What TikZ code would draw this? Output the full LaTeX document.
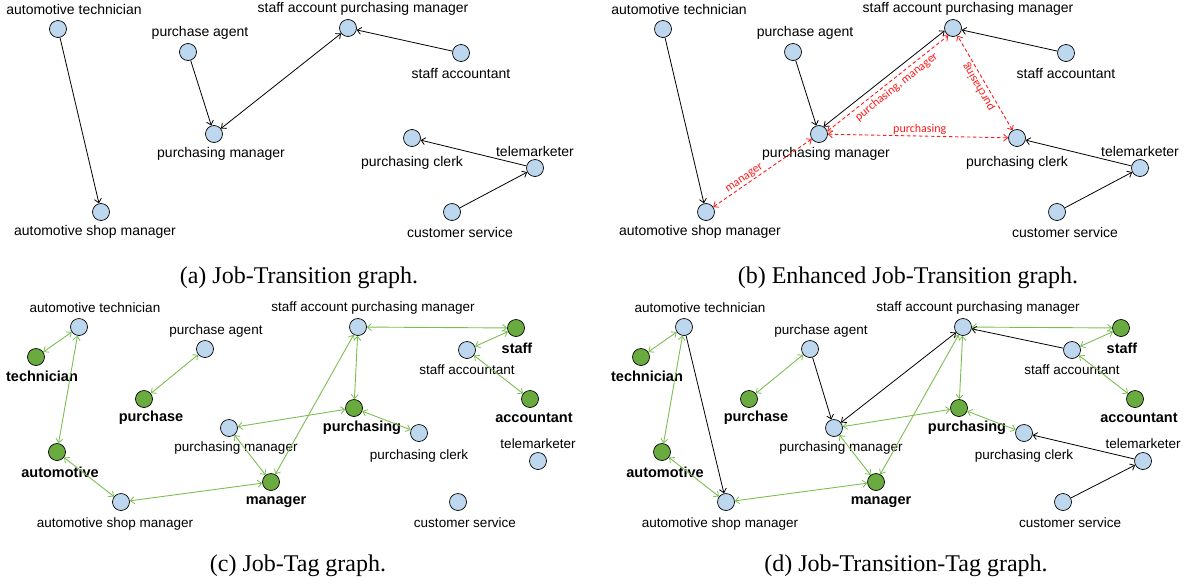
\documentclass[tikz,border=0pt]{standalone}
\usepackage{fontspec}
\setmainfont{Liberation Serif}
\newfontfamily\arialf{Liberation Sans}
\newfontfamily\calf{Carlito}
\usetikzlibrary{arrows.meta}
\definecolor{jobblue}{HTML}{BDD7EE}
\definecolor{tagfill}{HTML}{6AAB40}
\definecolor{tagedge}{HTML}{7DBE52}
\definecolor{relred}{HTML}{FF1A1A}

\newcommand{\jtgraph}[1]{%
  \node[job] (#1-at)   at (58,29)   {};
  \node[job] (#1-pa)   at (188,52)  {};
  \node[job] (#1-sapm) at (348,28)  {};
  \node[job] (#1-sa)   at (461,53)  {};
  \node[job] (#1-pm)   at (214,134) {};
  \node[job] (#1-pc)   at (412,138) {};
  \node[job] (#1-tm)   at (535,168) {};
  \node[job] (#1-cs)   at (452,212) {};
  \node[job] (#1-asm)  at (101,212) {};
  \node[lbl] (#1-atl)   at (74,9)    {automotive technician};
  \node[lbl] (#1-pal)   at (200,33)  {purchase agent};
  \node[lbl] (#1-sapml) at (363,9)   {staff account purchasing manager};
  \node[lbl] (#1-sal)   at (461,73)  {staff accountant};
  \node[lbl] (#1-pml)   at (221,154) {purchasing manager};
  \node[lbl] (#1-pcl)   at (412,163) {purchasing clerk};
  \node[lbl] (#1-tml)   at (535,151) {telemarketer};
  \node[lbl] (#1-csl)   at (460,232) {customer service};
  \node[lbl] (#1-asml)  at (95,232)  {automotive shop manager};
  \draw[trans] (#1-at) -- (#1-asm);
  \draw[trans] (#1-pa) -- (#1-pm);
  \draw[trans] (#1-sa) -- (#1-sapm);
  \draw[trans] (#1-tm) -- (#1-pc);
  \draw[trans] (#1-cs) -- (#1-tm);
}

\newcommand{\jtaggraph}[1]{%
  \node[job] (#1-at)   at (79,327)  {};
  \node[job] (#1-pa)   at (205,349) {};
  \node[job] (#1-sapm) at (358,327) {};
  \node[job] (#1-sa)   at (467,350) {};
  \node[job] (#1-pm)   at (229,428) {};
  \node[job] (#1-pc)   at (419,433) {};
  \node[job] (#1-tm)   at (538,461) {};
  \node[job] (#1-cs)   at (458,502) {};
  \node[job] (#1-asm)  at (121,502) {};
  \node[tag] (#1-tech) at (36,357)  {};
  \node[tag] (#1-pur)  at (144,399) {};
  \node[tag] (#1-auto) at (57,452)  {};
  \node[tag] (#1-man)  at (271,482) {};
  \node[tag] (#1-purg) at (354,408) {};
  \node[tag] (#1-stf)  at (516,328) {};
  \node[tag] (#1-acc)  at (530,399) {};
  \node[lblc] (#1-atl)   at (95,308)  {automotive technician};
  \node[lblc] (#1-pal)   at (216,331) {purchase agent};
  \node[lblc] (#1-sapml) at (373,308) {staff account purchasing manager};
  \node[lblc] (#1-sal)   at (467,370) {staff accountant};
  \node[lblc] (#1-pml)   at (236,448) {purchasing manager};
  \node[lblc] (#1-pcl)   at (419,456) {purchasing clerk};
  \node[lblc] (#1-tml)   at (538,444) {telemarketer};
  \node[lblc] (#1-csl)   at (465,523) {customer service};
  \node[lblc] (#1-asml)  at (115,524) {automotive shop manager};
  \node[tlbl] (#1-techl) at (42,376)  {technician};
  \node[tlbl] (#1-purl)  at (151,418) {purchase};
  \node[tlbl] (#1-autol) at (60,472)  {automotive};
  \node[tlbl] (#1-manl)  at (276,502) {manager};
  \node[tlbl] (#1-purgl) at (362,428) {purchasing};
  \node[tlbl] (#1-stfl)  at (517,348) {staff};
  \node[tlbl] (#1-accl)  at (534,418) {accountant};
  \draw[tagline] (#1-at) -- (#1-tech);
  \draw[tagline] (#1-at) -- (#1-auto);
  \draw[tagline] (#1-pa) -- (#1-pur);
  \draw[tagline] (#1-auto) -- (#1-asm);
  \draw[tagline] (#1-asm) -- (#1-man);
  \draw[tagline] (#1-pm) -- (#1-man);
  \draw[tagline] (#1-pm) -- (#1-purg);
  \draw[tagline] (#1-sapm) -- (#1-man);
  \draw[tagline] (#1-sapm) -- (#1-purg);
  \draw[tagline] (#1-sapm) -- (#1-stf);
  \draw[tagline] (#1-purg) -- (#1-pc);
  \draw[tagline] (#1-sa) -- (#1-stf);
  \draw[tagline] (#1-sa) -- (#1-acc);
}

\begin{document}
\begin{tikzpicture}[x=1pt,y=-1pt,
  job/.style={circle, draw=black, line width=0.7pt, fill=jobblue, minimum size=17pt, inner sep=0pt},
  tag/.style={circle, draw=black, line width=0.7pt, fill=tagfill, minimum size=17pt, inner sep=0pt},
  lbl/.style={font=\arialf\fontsize{14}{16}\selectfont, inner sep=0pt},
  lblc/.style={font=\arialf\fontsize{13.5}{16}\selectfont, inner sep=0pt},
  tlbl/.style={font=\arialf\bfseries\fontsize{14.5}{16}\selectfont, inner sep=0pt},
  captext/.style={font=\fontsize{24}{27}\selectfont, inner sep=0pt},
  mytip/.tip={Straight Barb[length=4pt,width=7pt,line width=0.8pt]},
  trans/.style={draw=black, line width=0.8pt, -mytip},
  transboth/.style={draw=black, line width=0.8pt, mytip-mytip},
  tagline/.style={draw=tagedge, line width=0.9pt, mytip-mytip},
  rel/.style={draw=relred, line width=0.9pt, dash pattern=on 3.5pt off 2.5pt, mytip-mytip},
  rellbl/.style={font=\calf\fontsize{12}{14}\selectfont, text=relred, inner sep=1pt}
]
\useasboundingbox (0,0) rectangle (1188,584);

% (a)
\begin{scope}
  \jtgraph{a}
  \draw[transboth] (a-pm) -- (a-sapm);
\end{scope}

% (b)
\begin{scope}[xshift=605pt]
  \jtgraph{b}
  \draw[transboth] (b-pm.58) -- (b-sapm.198);
  \draw[rel] (b-pm.18) -- node[rellbl, sloped, below=1.5pt, pos=0.53] {purchasing, manager} (b-sapm.238);
  \draw[rel] (b-pc) -- node[rellbl, sloped, allow upside down, above=1pt, pos=0.5] {purchasing} (b-sapm);
  \draw[rel] (b-pm) -- node[rellbl, above, pos=0.51] {purchasing} (b-pc);
  \draw[rel] (b-asm) -- node[rellbl, sloped, above, pos=0.35] {manager} (b-pm);
\end{scope}

% (c)
\begin{scope}
  \jtaggraph{c}
\end{scope}

% (d)
\begin{scope}[xshift=605pt]
  \jtaggraph{d}
  \draw[trans] (d-at) -- (d-asm);
  \draw[trans] (d-pa) -- (d-pm);
  \draw[transboth] (d-pm) -- (d-sapm);
  \draw[trans] (d-sa) -- (d-sapm);
  \draw[trans] (d-tm) -- (d-pc);
  \draw[trans] (d-cs) -- (d-tm);
\end{scope}

\node[captext] (capa) at (299,278) {(a) Job-Transition graph.};
\node[captext] (capb) at (908,278) {(b) Enhanced Job-Transition graph.};
\node[captext] (capc) at (298,566) {(c) Job-Tag graph.};
\node[captext] (capd) at (906,566) {(d) Job-Transition-Tag graph.};
\end{tikzpicture}
\end{document}
